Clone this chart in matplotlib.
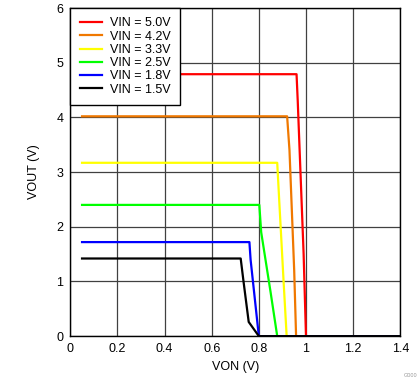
import matplotlib
matplotlib.use("Agg")
import matplotlib.pyplot as plt

matplotlib.rcParams.update({
    "font.family": ["Liberation Sans", "DejaVu Sans"],
    "font.size": 9,
})

# --- data ---
labels = ["VIN = 5.0V", "VIN = 4.2V", "VIN = 3.3V", "VIN = 2.5V", "VIN = 1.8V", "VIN = 1.5V"]
colors = ["#ff0000", "#f07800", "#ffff00", "#00ff00", "#0000ff", "#000000"]

von_50 = [0.05, 0.96, 0.965, 0.99, 1.00, 1.40]
vout_50 = [4.79, 4.79, 4.30, 1.50, 0.00, 0.00]

von_42 = [0.05, 0.92, 0.93, 0.95, 0.958, 1.40]
vout_42 = [4.02, 4.02, 3.40, 1.20, 0.00, 0.00]

von_33 = [0.05, 0.878, 0.885, 0.905, 0.918, 1.40]
vout_33 = [3.17, 3.17, 2.60, 1.00, 0.00, 0.00]

von_25 = [0.05, 0.802, 0.81, 0.85, 0.878, 1.40]
vout_25 = [2.40, 2.40, 1.90, 0.80, 0.00, 0.00]

von_18 = [0.05, 0.76, 0.765, 0.785, 0.80, 1.40]
vout_18 = [1.72, 1.72, 1.40, 0.60, 0.00, 0.00]

von_15 = [0.05, 0.723, 0.735, 0.757, 0.80, 1.40]
vout_15 = [1.42, 1.42, 1.00, 0.26, 0.00, 0.00]

series = [(von_50, vout_50), (von_42, vout_42), (von_33, vout_33),
          (von_25, vout_25), (von_18, vout_18), (von_15, vout_15)]

fig = plt.figure(figsize=(4.19, 3.82), dpi=100)
ax = fig.add_axes([0.1677, 0.120, 0.7876, 0.859])

for (x, y), c, lab in zip(series, colors, labels):
    ax.plot(x, y, color=c, linewidth=1.6, label=lab)

ax.set_xlim(0, 1.4)
ax.set_ylim(0, 6)
ax.set_xticks([0, 0.2, 0.4, 0.6, 0.8, 1.0, 1.2, 1.4])
ax.set_xticklabels(["0", "0.2", "0.4", "0.6", "0.8", "1", "1.2", "1.4"])
ax.set_yticks(range(0, 7))
ax.tick_params(length=0, labelsize=9, pad=5)
ax.grid(True, color="#404040", linewidth=0.9)
ax.set_axisbelow(True)
for s in ax.spines.values():
    s.set_color("black")
    s.set_linewidth(1.0)

ax.set_xlabel("VON (V)", fontsize=9, labelpad=4)
ax.set_ylabel("VOUT (V)", fontsize=9, labelpad=12)

leg = ax.legend(loc="upper left", fontsize=9, frameon=True, fancybox=False,
                borderaxespad=0, handlelength=1.76, handletextpad=0.67,
                labelspacing=0.1, borderpad=0.75)
leg.get_frame().set_edgecolor("black")
leg.get_frame().set_linewidth(1.0)
leg.get_frame().set_alpha(1)

fig.text(0.995, 0.01, "G000", fontsize=4, color="#999999", ha="right", va="bottom")

fig.savefig("out.png", dpi=100)
